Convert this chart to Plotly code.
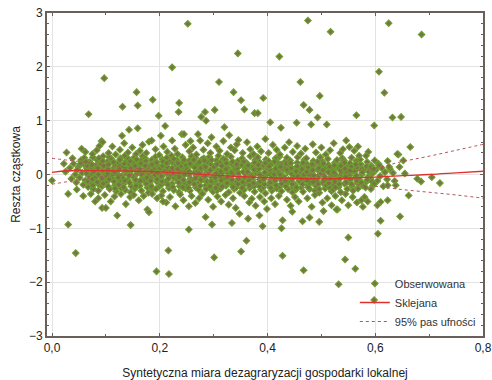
import plotly.graph_objects as go

# ---- data ----
outliers_hi = [(0.252,2.80),(0.223,1.99),(0.097,1.79),(0.345,2.25),(0.310,1.72),(0.337,1.53),(0.351,1.38),
 (0.357,1.21),(0.157,1.53),(0.159,1.28),(0.131,1.26),(0.187,1.39),(0.236,1.33),(0.235,1.16),(0.068,1.12),
 (0.198,1.09),(0.284,1.16),(0.302,1.20),(0.277,1.07),(0.286,1.00),(0.21,0.90),(0.143,0.83),(0.159,0.86),
 (0.13,0.72),(0.202,0.72),(0.241,0.75),(0.245,0.75),(0.257,0.62),(0.271,0.75),(0.275,0.63),(0.296,0.69),
 (0.32,0.88),(0.329,0.73),(0.346,0.64),(0.027,0.41),(0.055,0.48),(0.088,0.53),(0.092,0.62),(0.094,0.60),
 (0.18,0.61),(0.185,0.63),(0.223,0.63),
 (0.475,2.86),(0.517,2.65),(0.625,2.81),(0.686,2.60),(0.422,2.19),(0.607,1.91),(0.461,1.72),(0.617,1.52),
 (0.392,1.42),(0.497,1.46),(0.467,1.29),(0.478,1.20),(0.565,1.10),(0.632,1.06),(0.648,1.07),(0.598,0.91),
 (0.493,1.06),(0.376,1.14),(0.382,1.14),(0.405,0.97),(0.454,0.96),(0.481,0.93),(0.51,0.93),(0.425,0.87),
 (0.665,0.51),(0.643,0.37),(0.652,0.26),(0.546,0.63),(0.552,0.51),(0.583,0.35),(0.607,0.17),(0.626,0.14),
 (0.623,0.25),(0.641,0.38),(0.57,0.35),(0.592,0.14),(0.597,0.10)]

outliers_lo = [(0.0,-0.11),(0.022,0.20),(0.03,-0.36),(0.046,-0.28),(0.678,-0.08),(0.685,-0.13),(0.705,-0.05),
 (0.72,-0.16),(0.662,-0.39),(0.623,-0.48),(0.61,-0.51),(0.604,-0.57),(0.598,-0.17),(0.592,-0.27),(0.58,-0.42),
 (0.574,-0.48),(0.558,-0.42),(0.55,-0.57),(0.53,-0.65),(0.623,-0.20),(0.638,-0.20),
 (0.03,-0.93),(0.044,-1.46),(0.194,-1.80),(0.217,-1.85),(0.216,-1.41),(0.146,-0.94),(0.121,-0.76),
 (0.093,-0.62),(0.1,-0.62),(0.254,-1.02),(0.301,-1.54),(0.285,-0.79),(0.297,-0.93),(0.334,-0.90),
 (0.351,-1.43),(0.361,-1.23),(0.177,-0.65),(0.18,-0.70),(0.348,-0.73),(0.364,-0.82),(0.08,-0.50),
 (0.229,-0.59),(0.254,-0.59),(0.206,-0.50),
 (0.428,-1.51),(0.467,-1.78),(0.532,-2.04),(0.544,-1.58),(0.563,-1.75),(0.598,-2.33),(0.55,-1.17),
 (0.605,-1.10),(0.646,-0.78),(0.61,-0.86),(0.426,-1.00),(0.391,-0.96),(0.496,-0.88),(0.465,-0.87),
 (0.478,-0.80),(0.428,-0.85),(0.385,-0.76),(0.504,-0.68),(0.528,-0.65),(0.446,-0.69),(0.577,-0.60)]

mid_hi = [(0.062,0.42),(0.075,0.38),(0.083,0.45),(0.105,0.40),(0.112,0.52),(0.118,0.37),(0.126,0.46),
 (0.134,0.58),(0.141,0.41),(0.149,0.50),(0.156,0.38),(0.163,0.44),(0.168,0.55),(0.175,0.40),(0.192,0.47),
 (0.199,0.36),(0.207,0.52),(0.214,0.42),(0.228,0.48),(0.233,0.38),(0.248,0.55),(0.255,0.43),(0.262,0.50),
 (0.268,0.37),(0.281,0.46),(0.289,0.58),(0.294,0.40),(0.305,0.52),(0.311,0.44),(0.318,0.62),(0.325,0.38),
 (0.332,0.50),(0.339,0.45),(0.343,0.56),(0.354,0.40),(0.362,0.60),(0.368,0.47),(0.374,0.38),(0.381,0.52),
 (0.388,0.43),(0.396,0.66),(0.402,0.40),(0.41,0.55),(0.417,0.46),(0.423,0.37),(0.432,0.50),(0.44,0.60),
 (0.447,0.42),(0.455,0.53),(0.462,0.39),(0.47,0.48),(0.484,0.56),(0.49,0.41),(0.50,0.50),(0.508,0.37),
 (0.516,0.45),(0.523,0.58),(0.535,0.40),(0.54,0.47),(0.561,0.44),(0.568,0.52),(0.587,0.42)]

mid_lo = [(0.058,-0.40),(0.072,-0.36),(0.086,-0.44),(0.098,-0.38),(0.109,-0.50),(0.116,-0.41),(0.128,-0.36),
 (0.137,-0.55),(0.145,-0.42),(0.152,-0.38),(0.161,-0.48),(0.17,-0.40),(0.186,-0.36),(0.195,-0.44),
 (0.203,-0.39),(0.212,-0.52),(0.219,-0.42),(0.238,-0.37),(0.244,-0.48),(0.259,-0.40),(0.266,-0.53),
 (0.273,-0.44),(0.279,-0.36),(0.29,-0.47),(0.299,-0.60),(0.307,-0.41),(0.314,-0.50),(0.322,-0.38),
 (0.328,-0.56),(0.336,-0.44),(0.341,-0.62),(0.357,-0.40),(0.366,-0.52),(0.371,-0.45),(0.378,-0.58),
 (0.386,-0.42),(0.394,-0.50),(0.399,-0.64),(0.407,-0.44),(0.414,-0.55),(0.421,-0.40),(0.436,-0.47),
 (0.443,-0.58),(0.451,-0.42),(0.458,-0.50),(0.474,-0.44),(0.482,-0.60),(0.488,-0.38),(0.502,-0.52),
 (0.511,-0.44),(0.519,-0.57),(0.526,-0.40),(0.538,-0.48),(0.545,-0.36),(0.566,-0.52),(0.586,-0.50)]

core = [(0.025,0.05),(0.033,0.12),(0.036,-0.08),(0.040,0.20),(0.043,0.00),(0.038,0.30),(0.045,-0.15),
 (0.049,0.14),(0.051,-0.06),(0.054,0.27),(0.056,0.03),(0.058,-0.19),(0.047,0.09),(0.053,0.20),
 (0.061,0.17),(0.062,-0.11),(0.064,0.05),(0.060,0.31),(0.067,-0.23),(0.065,0.11),(0.068,-0.02),(0.069,0.23),
 (0.071,0.22),(0.072,-0.15),(0.074,0.01),(0.073,0.13),(0.077,-0.27),(0.076,0.32),(0.079,0.07),(0.078,-0.07),
 (0.081,-0.05),(0.082,0.17),(0.084,0.27),(0.087,-0.19),(0.083,0.03),(0.089,0.10),(0.086,-0.30),(0.088,0.21),
 (0.091,0.20),(0.092,-0.11),(0.095,0.34),(0.097,0.00),(0.093,-0.22),(0.098,0.13),(0.094,0.07),(0.099,-0.04),
 (0.101,-0.15),(0.103,0.24),(0.105,0.05),(0.107,-0.27),(0.102,0.15),(0.109,-0.04),(0.106,0.33),(0.104,0.10),
 (0.111,0.28),(0.113,-0.08),(0.115,0.12),(0.117,-0.20),(0.112,0.02),(0.118,0.19),(0.119,-0.31),(0.114,0.07),
 (0.121,0.00),(0.123,0.22),(0.125,-0.13),(0.127,0.30),(0.122,0.09),(0.128,-0.25),(0.126,0.16),(0.129,-0.03),
 (0.131,0.14),(0.133,-0.18),(0.135,0.35),(0.137,0.04),(0.132,-0.07),(0.138,0.25),(0.136,-0.29),(0.139,0.10),
 (0.141,-0.10),(0.143,0.19),(0.145,0.00),(0.147,-0.22),(0.142,0.29),(0.148,0.08),(0.146,-0.33),(0.149,0.15),
 (0.151,0.23),(0.152,-0.05),(0.155,0.11),(0.157,-0.16),(0.153,0.32),(0.158,0.02),(0.154,-0.26),(0.159,0.18),
 (0.161,0.06),(0.163,-0.21),(0.165,0.26),(0.167,-0.08),(0.162,0.14),(0.168,0.34),(0.166,-0.30),(0.169,0.01),
 (0.171,-0.12),(0.172,0.20),(0.175,0.08),(0.177,-0.24),(0.173,0.30),(0.178,-0.02),(0.176,0.13),(0.179,-0.34),
 (0.181,0.17),(0.183,-0.07),(0.185,0.27),(0.187,0.03),(0.182,-0.18),(0.188,0.11),(0.186,-0.28),(0.189,0.22),
 (0.191,-0.01),(0.193,0.24),(0.195,-0.14),(0.197,0.09),(0.192,0.33),(0.198,-0.23),(0.196,0.16),(0.199,-0.06),
 (0.201,0.12),(0.203,-0.19),(0.205,0.28),(0.207,0.00),(0.202,-0.09),(0.208,0.20),(0.206,-0.31),(0.209,0.06),
 (0.211,-0.13),(0.212,0.18),(0.215,0.04),(0.217,-0.25),(0.213,0.31),(0.218,-0.03),(0.216,0.10),(0.219,0.24),
 (0.221,0.07),(0.223,-0.17),(0.225,0.22),(0.227,-0.06),(0.222,0.35),(0.228,0.13),(0.226,-0.29),(0.229,0.00),
 (0.231,0.19),(0.233,-0.10),(0.235,0.03),(0.237,-0.22),(0.232,0.27),(0.238,0.09),(0.236,-0.33),(0.239,0.15),
 (0.241,-0.04),(0.243,0.23),(0.245,-0.16),(0.247,0.11),(0.242,0.32),(0.248,-0.26),(0.246,0.05),(0.249,0.17),
 (0.251,0.10),(0.252,-0.20),(0.255,0.26),(0.257,-0.08),(0.253,0.00),(0.258,0.18),(0.256,-0.30),(0.259,0.34),
 (0.261,-0.12),(0.263,0.15),(0.265,0.04),(0.267,-0.24),(0.262,0.25),(0.268,-0.02),(0.266,0.31),(0.269,0.08),
 (0.271,0.20),(0.273,-0.15),(0.275,0.07),(0.277,-0.05),(0.272,-0.28),(0.278,0.28),(0.276,0.12),(0.279,-0.35),
 (0.281,-0.09),(0.283,0.17),(0.285,-0.21),(0.287,0.02),(0.282,0.30),(0.288,-0.13),(0.286,0.09),(0.289,0.23),
 (0.291,0.04),(0.293,-0.25),(0.295,0.19),(0.297,-0.06),(0.292,0.33),(0.298,0.11),(0.296,-0.17),(0.299,-0.32),
 (0.301,0.14),(0.303,-0.11),(0.305,0.26),(0.307,-0.20),(0.302,0.00),(0.308,0.07),(0.306,-0.30),(0.309,0.35),
 (0.311,-0.03),(0.312,0.22),(0.315,-0.16),(0.317,0.10),(0.313,-0.26),(0.318,0.29),(0.316,0.03),(0.319,-0.09),
 (0.321,0.16),(0.323,-0.21),(0.325,0.05),(0.327,-0.12),(0.322,0.27),(0.328,-0.33),(0.326,0.12),(0.329,-0.01),
 (0.331,-0.07),(0.333,0.20),(0.335,-0.18),(0.337,0.08),(0.332,0.33),(0.338,-0.27),(0.336,0.00),(0.339,0.14),
 (0.341,0.10),(0.343,-0.14),(0.345,0.25),(0.347,-0.04),(0.342,-0.24),(0.348,0.17),(0.346,0.03),(0.349,-0.34),
 (0.351,-0.10),(0.352,0.18),(0.355,-0.20),(0.357,0.06),(0.353,0.30),(0.358,-0.05),(0.356,-0.29),(0.359,0.12),
 (0.361,0.22),(0.363,-0.16),(0.365,0.01),(0.367,-0.25),(0.362,0.10),(0.368,0.34),(0.366,-0.08),(0.369,0.15),
 (0.371,-0.02),(0.373,0.13),(0.375,-0.22),(0.377,0.27),(0.372,-0.12),(0.378,0.04),(0.376,-0.32),(0.379,0.20),
 (0.381,0.08),(0.383,-0.18),(0.385,0.23),(0.387,-0.07),(0.382,0.32),(0.388,-0.28),(0.386,0.00),(0.389,0.14),
 (0.391,-0.13),(0.393,0.17),(0.395,-0.03),(0.397,0.28),(0.392,-0.24),(0.398,0.09),(0.396,-0.35),(0.399,0.02),
 (0.401,0.12),(0.403,-0.20),(0.405,0.03),(0.407,-0.10),(0.402,0.25),(0.408,-0.30),(0.406,0.18),(0.409,-0.04),
 (0.411,-0.15),(0.413,0.07),(0.415,0.30),(0.417,-0.26),(0.412,0.00),(0.418,0.15),(0.416,-0.08),(0.419,0.22),
 (0.421,0.04),(0.423,-0.22),(0.425,0.19),(0.427,-0.11),(0.422,0.33),(0.428,-0.02),(0.426,-0.31),(0.429,0.10),
 (0.431,-0.06),(0.433,0.24),(0.435,-0.17),(0.437,0.05),(0.432,0.13),(0.438,-0.27),(0.436,0.31),(0.439,-0.10),
 (0.441,0.16),(0.443,-0.13),(0.445,0.01),(0.447,-0.23),(0.442,0.26),(0.448,0.09),(0.446,-0.33),(0.449,-0.04),
 (0.451,-0.19),(0.452,0.11),(0.455,0.22),(0.457,-0.07),(0.453,-0.28),(0.458,0.03),(0.456,0.32),(0.459,-0.12),
 (0.461,0.06),(0.463,-0.24),(0.465,0.17),(0.467,-0.01),(0.462,-0.14),(0.468,0.27),(0.466,-0.32),(0.469,0.12),
 (0.471,-0.09),(0.473,0.20),(0.475,-0.20),(0.477,0.08),(0.472,0.30),(0.478,-0.27),(0.476,0.00),(0.479,-0.15),
 (0.481,0.14),(0.483,-0.05),(0.485,0.25),(0.487,-0.18),(0.482,0.04),(0.488,-0.30),(0.486,0.18),(0.489,-0.10),
 (0.491,-0.22),(0.493,0.09),(0.495,-0.03),(0.497,0.21),(0.492,-0.13),(0.498,0.32),(0.496,-0.34),(0.499,0.02),
 (0.501,0.15),(0.503,-0.16),(0.505,0.05),(0.507,-0.26),(0.502,0.24),(0.508,-0.07),(0.506,0.11),(0.509,-0.20),
 (0.511,-0.11),(0.513,0.18),(0.515,-0.24),(0.517,0.02),(0.512,0.29),(0.518,-0.04),(0.516,0.10),(0.519,-0.31),
 (0.521,0.07),(0.523,-0.19),(0.525,0.22),(0.527,-0.09),(0.522,-0.28),(0.528,0.14),(0.526,0.00),(0.529,0.27),
 (0.531,-0.14),(0.533,0.12),(0.535,-0.03),(0.537,0.20),(0.532,-0.23),(0.538,0.05),(0.536,-0.33),(0.539,0.30),
 (0.541,0.09),(0.543,-0.17),(0.545,0.18),(0.547,-0.08),(0.542,0.26),(0.548,-0.27),(0.546,0.02),(0.549,0.13),
 (0.551,-0.12),(0.553,0.21),(0.555,0.04),(0.557,-0.22),(0.552,-0.02),(0.558,0.10),(0.556,0.31),(0.559,-0.30),
 (0.561,0.16),(0.563,-0.06),(0.565,0.25),(0.567,-0.16),(0.562,0.06),(0.568,-0.26),(0.566,0.13),
 (0.571,-0.10),(0.573,0.19),(0.575,0.00),(0.577,-0.21),(0.572,0.28),(0.578,0.08),
 (0.581,0.12),(0.583,-0.14),(0.585,0.23),(0.587,-0.04),(0.582,-0.24),(0.588,0.05),
 (0.591,-0.08),(0.593,0.16),(0.595,0.02),(0.597,-0.19),(0.599,0.26),
 (0.601,0.08),(0.604,-0.12),(0.606,0.20),(0.609,-0.03),(0.612,0.12),(0.615,-0.22),
 (0.618,0.04),(0.622,-0.09),(0.627,0.10),(0.633,0.03),(0.636,-0.12),(0.645,0.14),(0.655,0.02)]

core_dense = [(0.065,0.16),(0.066,-0.13),(0.064,0.02),(0.063,0.24),(0.075,-0.09),(0.074,0.18),(0.076,-0.20),(0.077,0.05),
 (0.085,0.12),(0.084,-0.14),(0.086,0.00),(0.087,0.30),(0.095,-0.17),(0.096,0.16),(0.094,0.25),(0.093,-0.07),
 (0.105,0.19),(0.106,-0.09),(0.104,-0.22),(0.103,0.01),(0.115,-0.13),(0.114,0.23),(0.116,0.04),(0.117,-0.26),
 (0.125,0.10),(0.124,-0.19),(0.126,0.27),(0.123,-0.06),(0.135,-0.12),(0.134,0.20),(0.136,0.08),(0.133,-0.24),
 (0.145,0.25),(0.144,-0.15),(0.146,0.12),(0.143,-0.02),(0.155,-0.10),(0.154,0.16),(0.156,-0.21),(0.157,0.28),
 (0.165,0.20),(0.164,-0.12),(0.166,0.00),(0.163,0.10),(0.175,-0.17),(0.174,0.25),(0.176,-0.06),(0.173,0.16),
 (0.185,0.06),(0.184,-0.22),(0.186,0.19),(0.183,-0.12),(0.195,-0.09),(0.194,0.22),(0.196,0.03),(0.193,-0.27),
 (0.205,0.16),(0.204,-0.13),(0.206,0.24),(0.203,-0.03),(0.215,-0.19),(0.214,0.14),(0.216,-0.08),(0.213,0.21),
 (0.225,0.02),(0.224,-0.23),(0.226,0.29),(0.223,0.12),(0.235,-0.15),(0.234,0.21),(0.236,-0.05),(0.233,0.10),
 (0.245,0.27),(0.244,-0.10),(0.246,0.00),(0.243,-0.24),(0.255,-0.14),(0.254,0.06),(0.256,0.20),(0.253,-0.25),
 (0.265,0.13),(0.264,-0.18),(0.266,-0.07),(0.263,0.27),(0.275,-0.21),(0.274,0.23),(0.276,-0.10),(0.273,0.02),
 (0.285,0.14),(0.284,-0.03),(0.286,-0.27),(0.283,0.26),(0.295,-0.13),(0.294,0.08),(0.296,0.27),(0.293,-0.22),
 (0.305,0.02),(0.304,-0.25),(0.306,0.19),(0.303,-0.06),(0.315,0.16),(0.314,-0.11),(0.316,-0.22),(0.313,0.06),
 (0.325,-0.16),(0.324,0.21),(0.326,-0.05),(0.323,0.10),(0.335,0.24),(0.334,-0.10),(0.336,-0.23),(0.333,0.04),
 (0.345,-0.18),(0.344,0.12),(0.346,-0.08),(0.343,0.19),(0.355,0.05),(0.354,-0.14),(0.356,0.24),(0.353,-0.25),
 (0.365,-0.12),(0.364,0.17),(0.366,-0.20),(0.363,0.05),(0.375,0.09),(0.374,-0.16),(0.376,0.22),(0.373,-0.05),
 (0.385,-0.22),(0.384,0.11),(0.386,-0.13),(0.383,0.18),(0.395,0.04),(0.394,-0.18),(0.396,0.21),(0.393,-0.09),
 (0.405,-0.15),(0.404,0.09),(0.406,-0.25),(0.403,0.15),(0.415,0.11),(0.414,-0.12),(0.416,-0.20),(0.413,0.24),
 (0.425,-0.07),(0.424,0.14),(0.426,-0.17),(0.423,0.00),(0.435,0.20),(0.434,-0.22),(0.436,0.09),(0.433,-0.12),
 (0.445,-0.09),(0.444,0.12),(0.446,-0.18),(0.443,0.21),(0.455,0.15),(0.454,-0.24),(0.456,-0.03),(0.453,0.06),
 (0.465,-0.18),(0.464,0.10),(0.466,0.22),(0.463,-0.08),(0.475,0.13),(0.474,-0.11),(0.476,-0.24),(0.473,0.05),
 (0.485,-0.14),(0.484,0.08),(0.486,-0.02),(0.483,0.19),(0.495,0.12),(0.494,-0.18),(0.496,-0.27),(0.493,0.24),
 (0.505,-0.11),(0.504,0.20),(0.506,-0.04),(0.503,0.08),(0.515,0.14),(0.514,-0.16),(0.516,-0.08),(0.513,0.05),
 (0.525,-0.13),(0.524,0.17),(0.526,-0.24),(0.523,0.04),(0.535,0.08),(0.534,-0.08),(0.536,0.16),(0.533,-0.18),
 (0.545,-0.04),(0.544,0.11),(0.546,-0.14),(0.543,0.22),(0.555,0.14),(0.554,-0.09),(0.556,-0.18),(0.553,0.07),
 (0.565,-0.02),(0.564,0.19),(0.566,-0.12),(0.575,0.10),(0.574,-0.15),(0.576,0.04),
 (0.585,-0.10),(0.584,0.15),(0.595,0.07),(0.594,-0.13)]

all_points = core + core_dense + mid_hi + mid_lo + outliers_hi + outliers_lo
obs_x = [p[0] for p in all_points]
obs_y = [p[1] for p in all_points]

fit_x = [0.00, 0.03, 0.10, 0.20, 0.25, 0.30, 0.35, 0.40, 0.45, 0.50, 0.55, 0.60, 0.65, 0.70, 0.75, 0.80]
fit_y = [0.04, 0.07, 0.07, 0.05, 0.02, -0.01, -0.04, -0.06, -0.07, -0.08, -0.07, -0.05, -0.02, 0.00, 0.03, 0.06]
band_x = [0.00, 0.05, 0.10, 0.15, 0.20, 0.25, 0.30, 0.35, 0.40, 0.45, 0.50, 0.55, 0.60, 0.65, 0.70, 0.75, 0.80]
band_hi = [0.30, 0.24, 0.17, 0.12, 0.09, 0.06, 0.03, 0.00, -0.02, -0.02, 0.00, 0.05, 0.12, 0.24, 0.34, 0.45, 0.56]
band_lo = [-0.18, -0.10, -0.03, 0.00, 0.01, -0.02, -0.05, -0.08, -0.10, -0.12, -0.14, -0.18, -0.22, -0.28, -0.33, -0.38, -0.44]

x_title = "Syntetyczna miara dezagraryzacji gospodarki lokalnej"
y_title = "Reszta cząstkowa"
names = ["Obserwowana", "Sklejana", "95% pas ufności"]

FONT = "Liberation Sans, Arial, sans-serif"
AXIS_COL = "#6a5f5a"
GRID_COL = "#e3e3e3"

fig = go.Figure()
fig.add_trace(go.Scatter(
    x=obs_x, y=obs_y, mode="markers", name=names[0],
    marker=dict(symbol="diamond", size=5, color="#7a7445",
                line=dict(width=1.1, color="#6f9f30")),
))
fig.add_trace(go.Scatter(
    x=fit_x, y=fit_y, mode="lines", name=names[1], line_shape="spline",
    line=dict(color="#e0322c", width=1.3),
))
fig.add_trace(go.Scatter(
    x=band_x, y=band_hi, mode="lines", name=names[2], line_shape="spline",
    line=dict(color="#b2555a", width=1, dash="dot"), legendgroup="band",
))
fig.add_trace(go.Scatter(
    x=band_x, y=band_lo, mode="lines", name=names[2], line_shape="spline",
    line=dict(color="#b2555a", width=1, dash="dot"), legendgroup="band", showlegend=False,
))

fig.update_layout(
    width=492, height=380,
    margin=dict(l=47, r=9, t=13, b=44),
    paper_bgcolor="white", plot_bgcolor="white",
    separators=", ",
    font=dict(family=FONT, size=12, color="#222"),
    legend=dict(x=0.995, y=0.0, xanchor="right", yanchor="bottom",
                bgcolor="rgba(255,255,255,0)", font=dict(size=11, color="#333"),
                tracegroupgap=0, itemwidth=30),
    showlegend=True,
)
fig.update_xaxes(
    range=[-0.0093, 0.8], dtick=0.2, tick0=0, tickformat=".1f", automargin=False,
    showgrid=True, gridcolor=GRID_COL, gridwidth=1, zeroline=False,
    showline=True, linecolor=AXIS_COL, linewidth=2, mirror="ticks",
    ticks="inside", ticklen=3, tickcolor=AXIS_COL,
    minor=dict(dtick=0.1, ticks="inside", ticklen=2, tickcolor=AXIS_COL, showgrid=False),
    tickfont=dict(size=12, color="#222"),
    title=dict(text=x_title, font=dict(size=12, color="#222"), standoff=19),
)
fig.update_yaxes(
    range=[-3, 3], dtick=1, tick0=0, automargin=False,
    showgrid=True, gridcolor=GRID_COL, gridwidth=1, zeroline=False,
    showline=True, linecolor=AXIS_COL, linewidth=2, mirror="ticks",
    ticks="inside", ticklen=3, tickcolor=AXIS_COL,
    minor=dict(dtick=0.2, ticks="inside", ticklen=2, tickcolor=AXIS_COL, showgrid=False),
    tickfont=dict(size=12, color="#222"),
    title=dict(text=y_title, font=dict(size=12, color="#222"), standoff=6),
)

fig.write_html("out.html")
